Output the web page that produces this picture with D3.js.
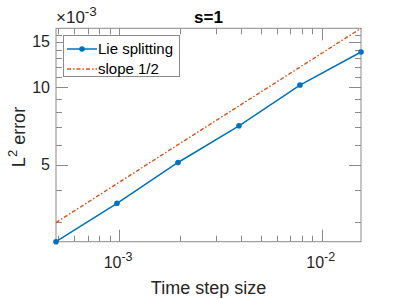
<!DOCTYPE html>
<html>
<head>
<meta charset="utf-8">
<script src="https://cdn.jsdelivr.net/npm/d3@7"></script>
<style>
  body { margin: 0; background: #fff; }
  svg { display: block; font-family: "Liberation Sans", Arial, Helvetica, sans-serif; }
</style>
</head>
<body>
<script>
// data
const stepSizes = [2 ** -11, 2 ** -10, 2 ** -9, 2 ** -8, 2 ** -7, 2 ** -6];
const lieError = [2.52e-3, 3.55e-3, 5.11e-3, 7.09e-3, 10.2e-3, 13.7e-3];
const slopeRef = [2.99e-3, 4.23e-3, 5.99e-3, 8.47e-3, 11.97e-3, 16.93e-3];
const xMajor = [1e-3, 1e-2];
const xMajorLabels = ["-3", "-2"];
const yMajor = [5e-3, 10e-3, 15e-3];
const yMajorLabels = ["5", "10", "15"];
const legendNames = ["Lie splitting", "slope 1/2"];

const width = 399, height = 299;
const m = {left: 56, right: 361, top: 28.3, bottom: 241.7};
const axisColor = "#8a8a8a";
const blue = "#0072BD", orange = "#D95319";

const svg = d3.select("body").append("svg")
  .attr("width", width).attr("height", height);

const x = d3.scaleLog().domain([2 ** -11, 2 ** -6]).range([m.left, m.right]);
const y = d3.scaleLog().domain([2.52e-3, 16.93e-3]).range([m.bottom, m.top]);

// minor ticks
const xMinor = [];
for (let e = -4; e <= -2; e++) for (let k = 2; k <= 9; k++) {
  const v = k * 10 ** e;
  if (v >= x.domain()[0] && v <= x.domain()[1]) xMinor.push(v);
}
const yMinor = d3.range(3, 17).map(k => k * 1e-3).filter(v => !yMajor.some(t => Math.abs(t - v) < 1e-9));

const g = svg.append("g").attr("stroke", axisColor).attr("stroke-width", 1).attr("fill", "none");
// box
g.append("rect").attr("x", m.left).attr("y", m.top)
  .attr("width", m.right - m.left).attr("height", m.bottom - m.top);

function xt(vals, len) {
  vals.forEach(v => {
    const px = Math.round(x(v)) + 0.5;
    g.append("line").attr("x1", px).attr("x2", px).attr("y1", m.bottom).attr("y2", m.bottom - len);
    g.append("line").attr("x1", px).attr("x2", px).attr("y1", m.top).attr("y2", m.top + len);
  });
}
function yt(vals, len) {
  vals.forEach(v => {
    const py = Math.round(y(v)) + 0.5;
    g.append("line").attr("y1", py).attr("y2", py).attr("x1", m.left).attr("x2", m.left + len);
    g.append("line").attr("y1", py).attr("y2", py).attr("x1", m.right).attr("x2", m.right - len);
  });
}
xt(xMinor, 6); xt(xMajor, 12);
yt(yMinor, 6); yt(yMajor, 12);

// tick labels
const txtColor = "#262626";
xMajor.forEach((v, i) => {
  const t = svg.append("text").attr("x", x(v) - 1).attr("y", 268)
    .attr("text-anchor", "middle").attr("font-size", 16).attr("fill", txtColor);
  t.append("tspan").text("10");
  t.append("tspan").attr("dy", -7).attr("font-size", 12.5).text(xMajorLabels[i]);
});
yMajor.forEach((v, i) => {
  svg.append("text").attr("x", 50).attr("y", y(v) + 5.5)
    .attr("text-anchor", "end").attr("font-size", 16).attr("fill", txtColor)
    .text(yMajorLabels[i]);
});
// exponent label
const ex = svg.append("text").attr("x", 56).attr("y", 23).attr("font-size", 17).attr("fill", txtColor);
ex.append("tspan").text("\u00d710");
ex.append("tspan").attr("dy", -7.5).attr("font-size", 13.5).text("-3");

// title and labels
svg.append("text").attr("x", (m.left + m.right) / 2).attr("y", 22.5)
  .attr("text-anchor", "middle").attr("font-size", 17).attr("font-weight", "bold")
  .attr("fill", "#000").text("s=1");
svg.append("text").attr("x", (m.left + m.right) / 2).attr("y", 294)
  .attr("text-anchor", "middle").attr("font-size", 18).attr("fill", txtColor)
  .text("Time step size");
const yl = svg.append("text").attr("transform", "translate(25,137) rotate(-90)")
  .attr("text-anchor", "middle").attr("font-size", 18).attr("fill", txtColor);
yl.append("tspan").text("L");
yl.append("tspan").attr("dy", -8).attr("font-size", 13).text("2");
yl.append("tspan").attr("dy", 8).text(" error");

// series
const line = d3.line().x(d => x(d[0])).y(d => y(d[1]));
svg.append("path").datum(d3.zip(stepSizes, slopeRef))
  .attr("d", line).attr("fill", "none").attr("stroke", orange)
  .attr("stroke-width", 1.4).attr("stroke-dasharray", "4,2,1.5,2");
svg.append("path").datum(d3.zip(stepSizes, lieError))
  .attr("d", line).attr("fill", "none").attr("stroke", blue).attr("stroke-width", 1.5);
svg.selectAll("circle.pt").data(d3.zip(stepSizes, lieError)).join("circle")
  .attr("class", "pt").attr("cx", d => x(d[0])).attr("cy", d => y(d[1]))
  .attr("r", 2.8).attr("fill", blue);

// legend
const lg = svg.append("g");
lg.append("rect").attr("x", 63.5).attr("y", 35.5).attr("width", 116).attr("height", 41)
  .attr("fill", "#fff").attr("stroke", axisColor).attr("stroke-width", 1);
const rows = [49, 69];
lg.append("line").attr("x1", 67).attr("x2", 97).attr("y1", rows[0]).attr("y2", rows[0])
  .attr("stroke", blue).attr("stroke-width", 1.5);
lg.append("circle").attr("cx", 82).attr("cy", rows[0]).attr("r", 2.8).attr("fill", blue);
lg.append("line").attr("x1", 67).attr("x2", 97).attr("y1", rows[1]).attr("y2", rows[1])
  .attr("stroke", orange).attr("stroke-width", 1.4).attr("stroke-dasharray", "4,2,1.5,2");
legendNames.forEach((n, i) => {
  lg.append("text").attr("x", 98).attr("y", rows[i] + 5).attr("font-size", 15)
    .attr("fill", "#000").text(n);
});
</script>
</body>
</html>
